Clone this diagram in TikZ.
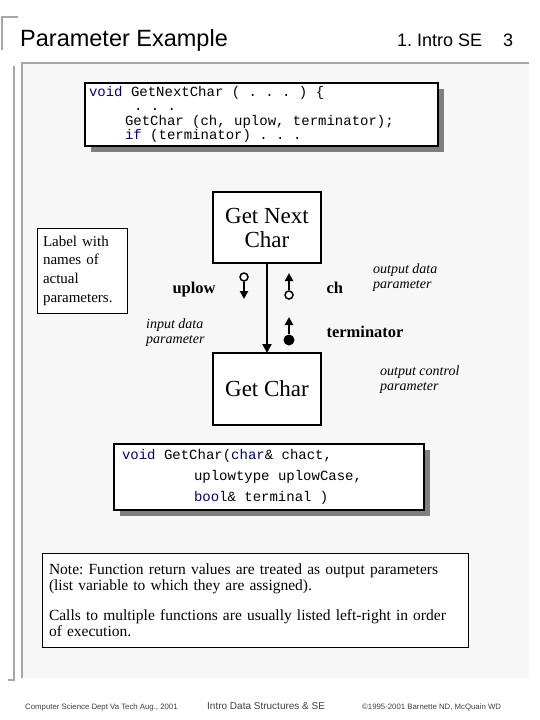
\documentclass[tikz,border=0pt]{standalone}
\usepackage{fontspec}
\setmainfont{Liberation Serif}
\setsansfont{Liberation Sans}
\setmonofont{Liberation Mono}
\usetikzlibrary{arrows.meta,shadows}
\definecolor{panelgray}{HTML}{F7F7F7}
\definecolor{framegray}{HTML}{A6A6A6}
\definecolor{shadowgray}{HTML}{7F7F7F}
\definecolor{kwblue}{HTML}{000080}
\definecolor{footgray}{HTML}{404040}
\newcommand{\kw}[1]{\textcolor{kwblue}{#1}}
\newcommand{\gap}{\hspace*{8.4pt}}
\frenchspacing

\begin{document}
\begin{tikzpicture}[x=1pt,y=-1pt,
	codebox/.style={draw=black,line width=2pt,fill=white,align=left,anchor=north west,outer sep=0pt,inner ysep=0pt,drop shadow={shadow xshift=6pt,shadow yshift=-6pt,fill=shadowgray,opacity=1}},
	module/.style={draw=black,line width=2pt,fill=white,align=center,outer sep=0pt,minimum width=108pt,font=\fontsize{23}{24}\selectfont},
	notebox/.style={draw=black,line width=0.8pt,fill=white,align=left,inner ysep=0pt},
	parname/.style={anchor=base west,font=\fontsize{16.5}{18}\selectfont\bfseries},
	kind/.style={anchor=north west,align=left,inner sep=0pt,font=\fontsize{14}{15.5}\selectfont\itshape},
	hollowdot/.style={circle,draw=black,line width=1.5pt,fill=white,minimum size=8pt,inner sep=0pt},
	soliddot/.style={circle,fill=black,minimum size=11pt,inner sep=0pt},
	flow/.style={line width=2pt,-{Triangle[length=9pt,width=9pt]}},
	parrow/.style={line width=2pt,-{Triangle[length=8pt,width=8pt]}},
	frame/.style={draw=framegray,line width=2pt},
	footer/.style={anchor=base west,text=footgray,inner sep=0pt,font=\sffamily\fontsize{7.8}{9}\selectfont}]
	\useasboundingbox (0,0) rectangle (540,720);
	\fill[white] (0,0) rectangle (540,720);
	\draw[frame] (2,50)--(2,17)--(18,17);
	\draw[frame] (14,66)--(14,680)--(8,680);
	\fill[panelgray] (22,63) rectangle (529,678);
	\draw[frame] (22,678)--(22,63)--(529,63);
	\node[anchor=base west,inner sep=0pt,font=\sffamily\fontsize{23.5}{28}\selectfont] (title) at (20,46) {Parameter Example};
	\node[anchor=base west,inner sep=0pt,font=\sffamily\fontsize{18}{20}\selectfont] (chapter) at (397,46) {1. Intro SE};
	\node[anchor=base west,inner sep=0pt,font=\sffamily\fontsize{18}{20}\selectfont] (page) at (503,46) {3};
	\node[codebox,minimum width=353pt,minimum height=63pt,inner xsep=4pt,text width=345pt,font=\fontsize{14}{14.5}\selectfont\ttfamily] (callcode) at (85,83) {\kw{void}\gap GetNextChar\gap(\gap.\gap.\gap.\gap)\gap\{\\
		\hspace*{45pt}.\gap.\gap.\\
		\hspace*{36pt}GetChar\gap(ch,\gap uplow,\gap terminator);\\
		\hspace*{36pt}\kw{if}\gap(terminator)\gap.\gap.\gap.};
	\node[notebox,text width=78pt,inner xsep=6pt,minimum height=85pt,font=\fontsize{15}{18.7}\selectfont] (labelnote) at (82,270.5) {Label with\\names of\\actual\\parameters.};
	\node[module,minimum height=71pt] (getnext) at (267,227.5) {Get Next\\Char};
	\node[module,minimum height=72pt] (getchar) at (267,389) {Get Char};
	\draw[flow] (getnext)--(getchar);
	\node[hollowdot] (uplowin) at (244,277) {};
	\coordinate (uplowend) at (244,299);
	\draw[parrow] (uplowin)--(uplowend);
	\node[hollowdot] (chout) at (289,295) {};
	\coordinate (chend) at (289,273);
	\draw[parrow] (chout)--(chend);
	\node[soliddot] (termout) at (289,340) {};
	\coordinate (termend) at (289,317);
	\draw[parrow] (termout)--(termend);
	\node[parname] (uplow) at (169,293) {uplow};
	\node[parname] (ch) at (323,293) {ch};
	\node[parname] (terminator) at (323,337) {terminator};
	\node[kind] (outdata) at (373,263.4) {output data\\parameter};
	\node[kind] (indata) at (146,318.4) {input data\\parameter};
	\node[kind] (outcontrol) at (380,365.4) {output control\\parameter};
	\node[codebox,minimum width=310pt,minimum height=66pt,inner xsep=8pt,text width=294pt,font=\fontsize{14}{21}\selectfont\ttfamily] (protocode) at (114,444) {\kw{void}\gap GetChar(\kw{char}\&\gap chact,\\
		\hspace*{72pt}uplowtype\gap uplowCase,\\
		\hspace*{72pt}\kw{bool}\&\gap terminal\gap)};
	\node[notebox,text width=412pt,inner xsep=7pt,minimum height=94pt,font=\fontsize{15.5}{16}\selectfont] (returnnote) at (255,600) {Note: Function return values are treated as output parameters\\
		(list variable to which they are assigned).\\[14pt]
		Calls to multiple functions are usually listed left-right in order\\
		of execution.};
	\node[footer] (dept) at (25,709) {Computer Science Dept Va Tech Aug., 2001};
	\node[footer,font=\sffamily\fontsize{10}{12}\selectfont] (course) at (207,709) {Intro Data Structures \& SE};
	\node[footer] (copyright) at (362,709) {\textcopyright1995-2001 Barnette ND, McQuain WD};
\end{tikzpicture}
\end{document}
